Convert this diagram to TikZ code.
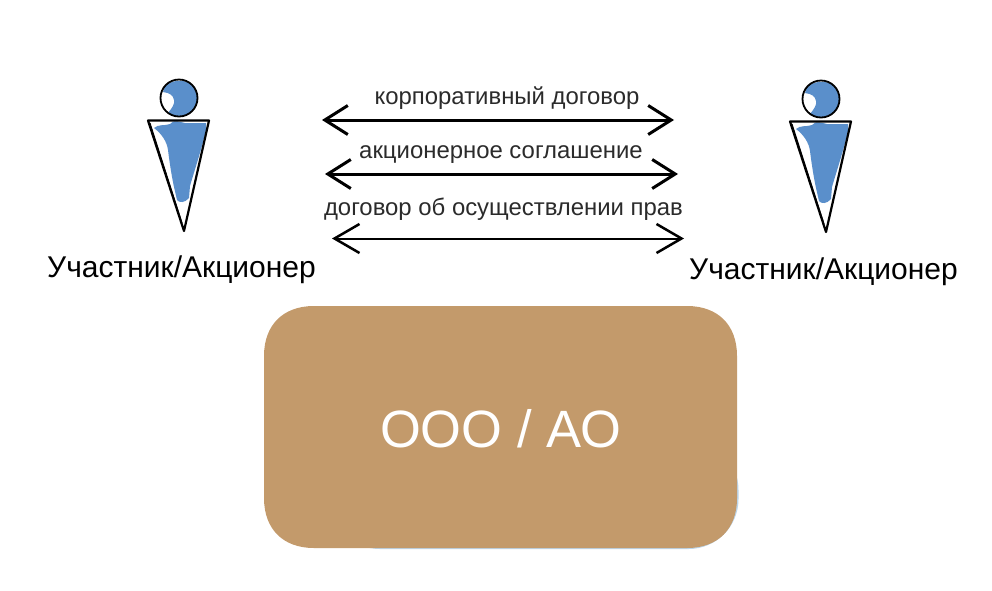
\documentclass[tikz,border=0pt]{standalone}
\usepackage{fontspec}
\setmainfont{Liberation Sans}
\usetikzlibrary{arrows.meta}
\definecolor{boxc}{HTML}{C39A6B}
\definecolor{figblue}{HTML}{5A8FCB}
\definecolor{edgeblue}{HTML}{BBD5EA}
\definecolor{txt}{HTML}{2B2B2B}
\tikzset{
  x=1pt,y=-1pt,
  lbl/.style={inner sep=0pt,text=txt,font=\fontsize{23.9}{26}\selectfont},
  person/.style={inner sep=0pt,text=black,font=\fontsize{30}{32}\selectfont},
  thickarrow/.style={line width=3pt,{Straight Barb[length=23pt,width=29pt,line width=3pt]}-{Straight Barb[length=23pt,width=29pt,line width=3pt]}},
  thinarrow/.style={line width=2pt,{Straight Barb[length=25pt,width=29pt,line width=2.5pt]}-{Straight Barb[length=25pt,width=29pt,line width=2.5pt]}},
  ink/.style={draw=black,line width=2.2pt,line join=round,line cap=round}
}
\newcommand{\personfig}[2]{%
  \begin{scope}[shift={(#1,#2)}]
    \fill[figblue] (-14,-12) .. controls (-6,-19) and (8,-19) .. (14,-12)
      .. controls (21,-2) and (19,10) .. (10,16)
      .. controls (2,20) and (-6,19) .. (-11,15)
      .. controls (-7,10) and (-4,6) .. (-5,2)
      .. controls (-6,-3) and (-9,-5) .. (-16,-6) -- cycle;
    \draw[line width=1.8pt] (0,0) circle (18.5);
    \fill[figblue] (-25,30) .. controls (-21,26) and (-14,28) .. (-9,26)
      .. controls (-5,21) and (0,24) .. (6,25)
      -- (27,25) -- (27,32)
      .. controls (23,50) and (15,74) .. (11,88)
      -- (10,100) .. controls (6,105) and (0,105) .. (-2,102)
      -- (-5,89) .. controls (-8,75) and (-10,60) .. (-11,52)
      .. controls (-12,44) and (-17,36) .. (-25,30) -- cycle;
    \draw[ink] (-31,22.5) -- (30,22.5) -- (5,133) -- cycle;
    \draw[line width=1pt,line join=round] (-29,25) -- (3,125);
  \end{scope}}
\begin{document}
\begin{tikzpicture}
\useasboundingbox (0,0) rectangle (992,590);
\fill[white] (0,0) rectangle (992,590);
% box: light edge, then squircle fill
\fill[edgeblue,rounded corners=50pt] (330,440) rectangle (738.5,549);
\fill[boxc] (264,356) .. controls (264,325) and (283,306) .. (314,306)
  -- (687,306) .. controls (718,306) and (737,325) .. (737,356)
  -- (737,498) .. controls (737,529) and (718,548) .. (687,548)
  -- (314,548) .. controls (283,548) and (264,529) .. (264,498) -- cycle;
\node[inner sep=0pt,text=white,font=\fontsize{52.5}{56}\selectfont] (company) at (500.5,429) {ООО / АО};
% persons
\personfig{179}{98}
\personfig{821}{99}
\node[person] (left)  at (181.5,269.5) {Участник/Акционер};
\node[person] (right) at (823.5,272) {Участник/Акционер};
% arrows
\coordinate (a1l) at (322,120); \coordinate (a1r) at (674,120);
\coordinate (a2l) at (325,174); \coordinate (a2r) at (678,174);
\coordinate (a3l) at (332,238.5); \coordinate (a3r) at (684,238.5);
\draw[thickarrow] (a1l) -- (a1r);
\draw[thickarrow] (a2l) -- (a2r);
\draw[thinarrow] (a3l) -- (a3r);
% labels
\node[lbl] (l1) at (507,98) {корпоративный договор};
\node[lbl] (l2) at (501,154.5) {акционерное соглашение};
\node[lbl] (l3) at (503.5,209) {договор об осуществлении прав};
\end{tikzpicture}
\end{document}
